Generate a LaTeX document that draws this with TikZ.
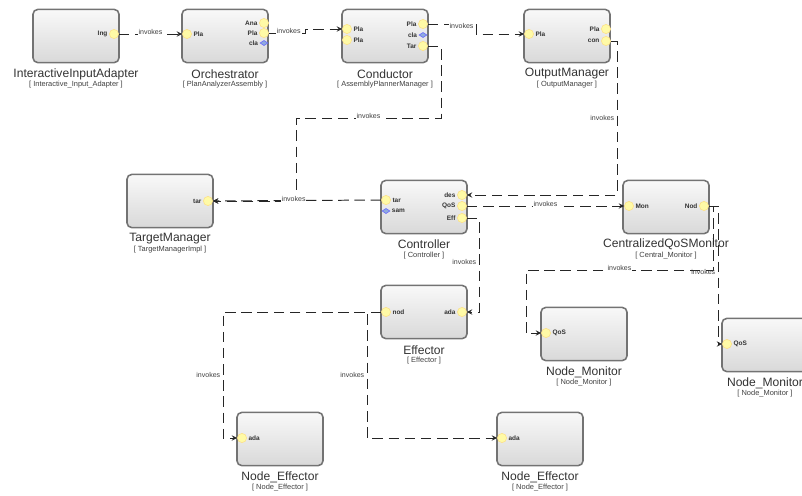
\documentclass[tikz,border=0pt]{standalone}
\usepackage{fontspec}
\setmainfont{Liberation Sans}
\usetikzlibrary{arrows,positioning,shapes.geometric}

\begin{document}
\begin{tikzpicture}[x=0.025cm, y=-0.025cm,
    compbox/.style={rectangle, draw=black!55, line width=1.1pt, rounded corners=1.2mm, minimum width=2.15cm, minimum height=1.33cm, top color=gray!5, bottom color=gray!30},
    cname/.style={font=\fontsize{8.6}{9}\selectfont, text=black!80, inner sep=0pt},
    cimpl/.style={font=\fontsize{5.3}{6}\selectfont, text=black!75, inner sep=0pt},
    port/.style={circle, draw=yellow!55!orange!45, line width=0.4pt, fill=yellow!35, minimum size=0.23cm, inner sep=0pt},
    bport/.style={diamond, draw=blue!60, fill=cyan!45!blue!45, minimum width=0.2cm, minimum height=0.13cm, inner sep=0pt},
    plbl/.style={font=\fontsize{4.6}{5}\selectfont\bfseries, text=black!80, inner sep=1pt},
    wire/.style={->, >=stealth, line width=0.7pt, black!85, dash pattern=on 7.5pt off 4pt},
    invk/.style={font=\fontsize{5}{6}\selectfont, text=black!75, fill=white, inner sep=0.6pt}
]
\useasboundingbox (0,0) rectangle (802,495);

% Top row
\node[compbox] (iia) at (76,36) {};
\node[cname] (iia-name) at (76,74) {InteractiveInputAdapter};
\node[cimpl] (iia-impl) at (76,85) {[ Interactive\_Input\_Adapter ]};
\node[port, label={[plbl]left:Ing}] (iia-ing) at (114,34) {};

\node[compbox] (orc) at (225,36) {};
\node[cname] (orc-name) at (225,74) {Orchestrator};
\node[cimpl] (orc-impl) at (225,85) {[ PlanAnalyzerAssembly ]};
\node[port, label={[plbl]right:Pla}] (orc-pla) at (187,34) {};
\node[port, label={[plbl]left:Ana}] (orc-ana) at (264,23) {};
\node[port, label={[plbl]left:Pla}] (orc-plao) at (264,33) {};
\node[bport, label={[plbl]left:cla}] (orc-cla) at (264,43) {};

\node[compbox] (con) at (385,36) {};
\node[cname] (con-name) at (385,74) {Conductor};
\node[cimpl] (con-impl) at (385,85) {[ AssemblyPlannerManager ]};
\node[port, label={[plbl]right:Pla}] (con-pla) at (347,29) {};
\node[port, label={[plbl]right:Pla}] (con-pla2) at (347,40) {};
\node[port, label={[plbl]left:Pla}] (con-plao) at (423,24) {};
\node[bport, label={[plbl]left:cla}] (con-cla) at (423,35) {};
\node[port, label={[plbl]left:Tar}] (con-tar) at (423,46) {};

\node[compbox] (out) at (567,36) {};
\node[cname] (out-name) at (567,74) {OutputManager};
\node[cimpl] (out-impl) at (567,85) {[ OutputManager ]};
\node[port, label={[plbl]right:Pla}] (out-pla) at (529,34) {};
\node[port, label={[plbl]left:Pla}] (out-plao) at (606,29) {};
\node[port, label={[plbl]left:con}] (out-con) at (606,41) {};

% Middle row
\node[compbox] (tgt) at (170,201) {};
\node[cname] (tgt-name) at (170,239) {TargetManager};
\node[cimpl] (tgt-impl) at (170,250) {[ TargetManagerImpl ]};
\node[port, label={[plbl]left:tar}] (tgt-tar) at (208,201) {};

\node[compbox] (ctl) at (424,207) {};
\node[cname] (ctl-name) at (424,244) {Controller};
\node[cimpl] (ctl-impl) at (424,256) {[ Controller ]};
\node[port, label={[plbl]right:tar}] (ctl-tar) at (386,200) {};
\node[bport, label={[plbl]right:sam}] (ctl-sam) at (386,211) {};
\node[port, label={[plbl]left:des}] (ctl-des) at (462,195) {};
\node[port, label={[plbl]left:QoS}] (ctl-qos) at (462,206) {};
\node[port, label={[plbl]left:Eff}] (ctl-eff) at (462,218) {};

\node[compbox] (cqm) at (666,207) {};
\node[cname] (cqm-name) at (666,244) {CentralizedQoSMonitor};
\node[cimpl] (cqm-impl) at (666,256) {[ Central\_Monitor ]};
\node[port, label={[plbl]right:Mon}] (cqm-mon) at (629,206) {};
\node[port, label={[plbl]left:Nod}] (cqm-nod) at (704,206) {};

% Lower rows
\node[compbox] (eff) at (424,312) {};
\node[cname] (eff-name) at (424,350) {Effector};
\node[cimpl] (eff-impl) at (424,361) {[ Effector ]};
\node[port, label={[plbl]right:nod}] (eff-nod) at (386,312) {};
\node[port, label={[plbl]left:ada}] (eff-ada) at (462,312) {};

\node[compbox] (nm1) at (584,334) {};
\node[cname] (nm1-name) at (584,372) {Node\_Monitor};
\node[cimpl] (nm1-impl) at (584,383) {[ Node\_Monitor ]};
\node[port, label={[plbl]right:QoS}] (nm1-qos) at (546,333) {};

\node[compbox] (nm2) at (765,345) {};
\node[cname] (nm2-name) at (765,383) {Node\_Monitor};
\node[cimpl] (nm2-impl) at (765,394) {[ Node\_Monitor ]};
\node[port, label={[plbl]right:QoS}] (nm2-qos) at (727,344) {};

\node[compbox] (ne1) at (280,439) {};
\node[cname] (ne1-name) at (280,477) {Node\_Effector};
\node[cimpl] (ne1-impl) at (280,488) {[ Node\_Effector ]};
\node[port, label={[plbl]right:ada}] (ne1-ada) at (242,438) {};

\node[compbox] (ne2) at (540,439) {};
\node[cname] (ne2-name) at (540,477) {Node\_Effector};
\node[cimpl] (ne2-impl) at (540,488) {[ Node\_Effector ]};
\node[port, label={[plbl]right:ada}] (ne2-ada) at (502,438) {};

% Bend points
\coordinate (b2) at (305,0);
\coordinate (b3) at (476,0);
\coordinate (b4a) at (441,0);
\coordinate (b4b) at (296,118);
\coordinate (b5) at (617,0);
\coordinate (b7) at (479,0);
\coordinate (b8a) at (713,270);
\coordinate (b8b) at (526,270);
\coordinate (b8c) at (718,0);
\coordinate (b9a) at (223,0);
\coordinate (b9b) at (367,0);

% Invocations
\draw[wire] (iia-ing) -- node[invk, midway, above=-1pt] {invokes} (orc-pla);
\draw[wire] (orc-plao) -- node[invk, pos=0.55, above=-1pt] {invokes} (b2 |- orc-plao) -- (b2 |- con-pla) -- (con-pla);
\draw[wire] (con-plao) -- node[invk, pos=0.7, below=-1.5pt] {invokes} (b3 |- con-plao) -- (b3 |- out-pla) -- (out-pla);
\draw[wire] (con-tar) -- (b4a |- con-tar) -- (b4a |- b4b) -- node[invk, midway, above=-1pt] {invokes} (b4b) -- (b4b |- tgt-tar) -- (tgt-tar);
\draw[wire] (ctl-tar) -- node[invk, pos=0.52, above=-1.5pt] {invokes} (tgt-tar);
\draw[wire] (out-con) -- (b5 |- out-con) -- node[invk, pos=0.5, left=1pt, fill=none] {invokes} (b5 |- ctl-des) -- (ctl-des);
\draw[wire] (ctl-qos) -- node[invk, midway, above=-1pt] {invokes} (cqm-mon);
\draw[wire] (ctl-eff) -- (b7 |- ctl-eff) -- node[invk, pos=0.47, left=1pt, fill=none] {invokes} (b7 |- eff-ada) -- (eff-ada);
\draw[wire] (cqm-nod) -- (b8a |- cqm-nod) -- (b8a) -- node[invk, pos=0.5, above=-1pt] {invokes} (b8b) -- (b8b |- nm1-qos) -- (nm1-qos);
\draw[wire] (cqm-nod) -- (b8c |- cqm-nod) -- node[invk, pos=0.48, left=1pt, fill=none] {invokes} (b8c |- nm2-qos) -- (nm2-qos);
\draw[wire] (eff-nod) -- (b9a |- eff-nod) -- node[invk, midway, left=1pt, fill=none] {invokes} (b9a |- ne1-ada) -- (ne1-ada);
\draw[wire] (eff-nod) -- (b9b |- eff-nod) -- node[invk, midway, left=1pt, fill=none] {invokes} (b9b |- ne2-ada) -- (ne2-ada);

\end{tikzpicture}
\end{document}
